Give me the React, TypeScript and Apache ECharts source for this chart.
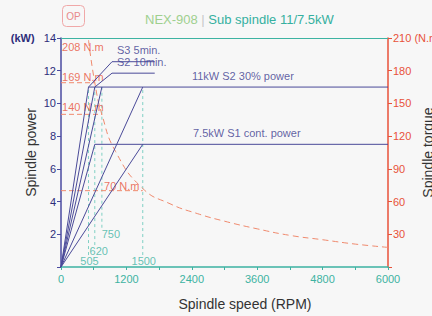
import React, { useEffect, useRef } from "react";
import * as echarts from "echarts";

const speedMarks = [505, 620, 750, 1500];
const rampEnds: [number, number][] = [
  [505, 11],
  [620, 11],
  [750, 11],
  [620, 7.5],
  [1500, 11],
  [1500, 7.5],
];
const s2Power = 11;
const s2Start = 505;
const s1Power = 7.5;
const s1Start = 620;
const maxSpeed = 6000;
const torqueMarks = [208, 169, 140, 70];
const torqueMarkSpeeds = [505, 620, 750, 1500];
const torqueCurveSpeed = [505, 620, 750, 1000, 1500, 2000, 2500, 3000, 3600, 4200, 4800, 5400, 6000];
const torqueCurveValue = [208, 169, 140, 106, 72, 58, 49, 42, 35, 29, 25, 21, 18];

const NAVY = "#4a4a98";
const TEAL = "#3db3a2";
const RED = "#e8523a";
const FONT = "Liberation Sans, Arial, sans-serif";

export default function App() {
  const ref = useRef<HTMLDivElement>(null);
  useEffect(() => {
    const chart = echarts.init(ref.current!, null, { renderer: "svg" });
    const series: any[] = [];
    rampEnds.forEach((p) => {
      series.push({
        type: "line",
        data: [[0, 0], p],
        symbol: "none",
        lineStyle: { color: NAVY, width: 1 },
        z: 3,
      });
    });
    series.push({
      type: "line",
      data: [[s2Start, s2Power], [maxSpeed, s2Power]],
      symbol: "none",
      lineStyle: { color: NAVY, width: 1 },
    });
    series.push({
      type: "line",
      data: [[s1Start, s1Power], [maxSpeed, s1Power]],
      symbol: "none",
      lineStyle: { color: NAVY, width: 1 },
    });
    const speedBottoms = [0.73, 1.34, 2.4, 0.73];
    const speedLabelShift = [1, 4, 9, 1];
    speedMarks.forEach((s, i) => {
      series.push({
        type: "line",
        data: [[s, speedBottoms[i]], [s, s2Power]],
        symbol: "none",
        lineStyle: { color: "#7fd0c4", width: 1, type: [3, 3] },
        z: 1,
      });
      series.push({
        type: "scatter",
        data: [[s, speedBottoms[i]]],
        symbol: "rect",
        symbolSize: 1,
        itemStyle: { color: "rgba(0,0,0,0)" },
        silent: true,
        clip: false,
        labelLayout: { hideOverlap: false, moveOverlap: null },
        label: {
          show: true,
          formatter: String(s),
          color: TEAL,
          fontSize: 11,
          fontFamily: FONT,
          position: [0.5 + speedLabelShift[i], 1],
          align: "center",
          verticalAlign: "top",
        },
      });
    });
    const torqueLabelOffsets = [[0, 7], [0, -6], [0, -7], [0, -5]];
    torqueMarks.forEach((t, i) => {
      if (i > 0) {
        series.push({
          type: "line",
          yAxisIndex: 1,
          data: [[0, t], [torqueMarkSpeeds[i], t]],
          symbol: "none",
          lineStyle: { color: "#f08a6e", width: 1, type: [5, 3] },
          z: 2,
        });
      }
      const lx = i === 3 ? 790 : 20;
      series.push({
        type: "scatter",
        yAxisIndex: 1,
        data: [[lx, t]],
        symbolSize: 0,
        silent: true,
        label: {
          show: true,
          formatter: t + " N.m",
          color: RED,
          fontSize: 11,
          fontFamily: FONT,
          position: "right",
          distance: 0,
          offset: torqueLabelOffsets[i],
        },
      });
    });
    series.push({
      type: "line",
      yAxisIndex: 1,
      data: torqueCurveSpeed.map((s, i) => [s, torqueCurveValue[i]]),
      symbol: "none",
      smooth: true,
      lineStyle: { color: "#f08a6e", width: 1, type: [6, 4] },
      z: 2,
    });
    const leaders = [
      { name: "S3 5min.", from: [505, 11], y: 12.55 },
      { name: "S2 10min.", from: [620, 11], y: 11.85 },
    ];
    leaders.forEach((l) => {
      series.push({
        type: "line",
        data: [l.from, [936, l.y], [1720, l.y]],
        symbol: "none",
        lineStyle: { color: NAVY, width: 1 },
      });
      series.push({
        type: "scatter",
        data: [[936, l.y]],
        symbolSize: 0,
        silent: true,
        label: {
          show: true,
          formatter: l.name,
          color: "#3a3a8e",
          fontSize: 11,
          fontFamily: FONT,
          position: "insideBottomLeft",
          offset: [0, -1],
        },
      });
    });
    [
      { name: "11kW S2 30% power", x: 2310, y: s2Power },
      { name: "7.5kW S1 cont. power", x: 2330, y: s1Power },
    ].forEach((l) => {
      series.push({
        type: "scatter",
        data: [[l.x, l.y]],
        symbolSize: 0,
        silent: true,
        label: {
          show: true,
          formatter: l.name,
          color: "#3a3a8e",
          fontSize: 11,
          fontFamily: FONT,
          position: "insideBottomLeft",
          offset: [0, -1],
        },
      });
    });

    chart.setOption({
      animation: false,
      backgroundColor: "#f7f7f7",
      textStyle: { fontFamily: FONT },
      grid: { left: 61, right: 44, top: 38, bottom: 49, outerBoundsMode: "none", containLabel: false },
      title: {
        text: "{g|NEX-908 }{s||}{t| Sub spindle 11/7.5kW}",
        left: 140,
        top: 8,
        textStyle: {
          fontWeight: "normal",
          rich: {
            g: { color: "#9fd08f", fontSize: 13, fontFamily: FONT, fontWeight: "normal" },
            s: { color: "#c8c8c8", fontSize: 13, fontFamily: FONT, fontWeight: "normal" },
            t: { color: "#35b0a0", fontSize: 13, fontFamily: FONT, fontWeight: "normal" },
          },
        },
      },
      graphic: [
        {
          type: "rect",
          shape: { x: 62.5, y: 5.5, width: 22, height: 21, r: 4 },
          style: { fill: "none", stroke: "#f0a8a8", lineWidth: 1 },
        },
        {
          type: "text",
          x: 73.5,
          y: 16,
          style: {
            text: "OP",
            fill: "#e88a8a",
            fontSize: 10,
            fontFamily: FONT,
            align: "center",
            verticalAlign: "middle",
          },
        },
      ],
      xAxis: [
        {
          type: "value",
          min: 0,
          max: maxSpeed,
          interval: 600,
          name: "Spindle speed (RPM)",
          nameLocation: "middle",
          nameGap: 30,
          nameMoveOverlap: false,
          nameTextStyle: { color: "#333", fontSize: 14, fontFamily: FONT, padding: [0, 0, 0, 41] },
          axisLine: { onZero: false, lineStyle: { color: TEAL, width: 1.5 } },
          axisTick: {
            show: true,
            length: 3,
            lineStyle: { color: TEAL },
            interval: (i: number, v: any) => Number(v) % 1200 !== 0,
          },
          axisLabel: {
            color: TEAL,
            fontSize: 11,
            margin: 6,
            formatter: (v: number) => (v % 1200 === 0 ? String(v) : ""),
          },
          splitLine: { show: false },
        },
        {
          type: "value",
          position: "top",
          min: 0,
          max: maxSpeed,
          axisLine: { onZero: false, lineStyle: { color: TEAL, width: 1 } },
          axisTick: { show: false },
          axisLabel: { show: false },
          splitLine: { show: false },
        },
      ],
      yAxis: [
        {
          type: "value",
          min: 0,
          max: 14,
          interval: 2,
          name: "Spindle power",
          nameLocation: "middle",
          nameGap: 23,
          nameRotate: 90,
          nameMoveOverlap: false,
          nameTextStyle: { color: "#333", fontSize: 14, fontFamily: FONT },
          axisLine: { show: true, onZero: false, lineStyle: { color: "#4a4aa0", width: 1.5 } },
          axisTick: { show: true, length: 4, lineStyle: { color: "#4a4aa0" } },
          axisLabel: {
            color: "#2e2e7a",
            fontSize: 11,
            margin: 5,
            formatter: (v: number) => (v === 0 ? "" : v === 14 ? "{u|(kW)}   14" : String(v)),
            rich: { u: { color: "#2e2e7a", fontSize: 11, fontWeight: "bold", fontFamily: FONT } },
          },
          splitLine: { show: false },
        },
        {
          type: "value",
          min: 0,
          max: 210,
          interval: 30,
          position: "right",
          name: "Spindle torque",
          nameLocation: "middle",
          nameGap: 33,
          nameRotate: 90,
          nameMoveOverlap: false,
          nameTextStyle: { color: "#333", fontSize: 14, fontFamily: FONT },
          axisLine: { show: true, onZero: false, lineStyle: { color: RED, width: 1.5 } },
          axisTick: { show: true, length: 4, lineStyle: { color: RED } },
          axisLabel: {
            color: RED,
            fontSize: 11,
            margin: 5,
            formatter: (v: number) => (v === 0 ? "" : v === 210 ? "210 (N.m)" : String(v)),
          },
          splitLine: { show: false },
        },
      ],
      series,
    });
    return () => chart.dispose();
  }, []);
  return (
    <div
      ref={ref}
      style={{ position: "fixed", left: 0, top: 0, width: 432, height: 316 }}
    />
  );
}
